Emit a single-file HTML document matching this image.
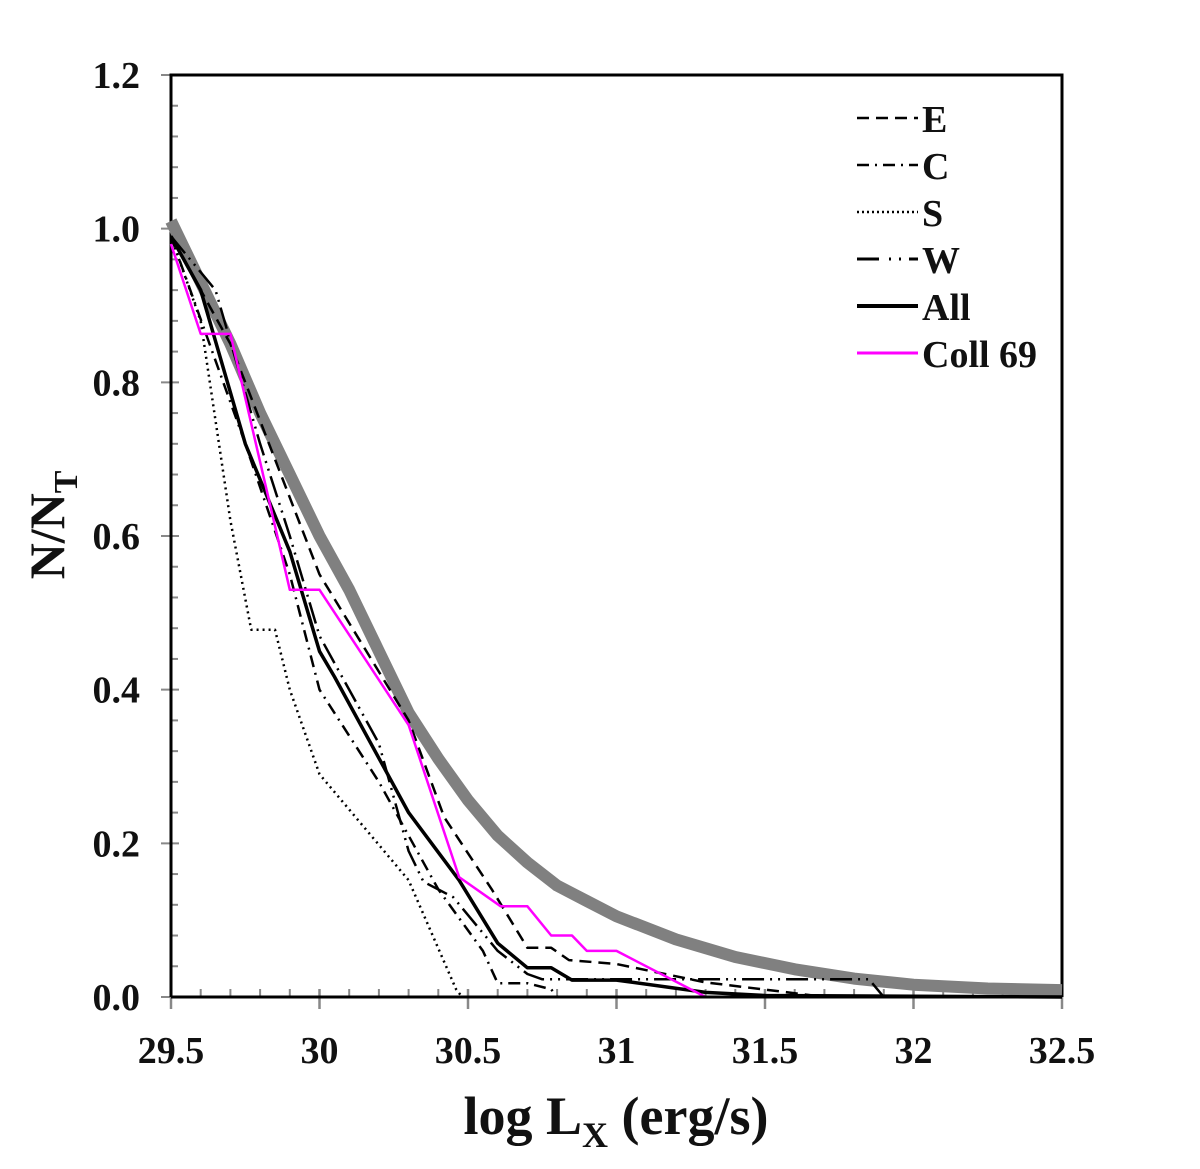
<!DOCTYPE html>
<html><head><meta charset="utf-8"><style>
html,body{margin:0;padding:0;background:#fff;}
svg{display:block;}
text{font-family:"Liberation Serif",serif;font-weight:bold;fill:#111;}
</style></head><body>
<svg id="chart" width="1200" height="1169" viewBox="0 0 1200 1169" xmlns="http://www.w3.org/2000/svg">
<g id="grid"></g>
<g id="series"></g>
<g id="legend"></g>
<text transform="translate(64,525) rotate(-90)" text-anchor="middle" font-size="50">N/N<tspan font-size="34" dy="13">T</tspan></text>
<text x="616" y="1134" text-anchor="middle" font-size="54">log L<tspan font-size="36" dy="13">X</tspan><tspan dy="-13"> (erg/s)</tspan></text>
</svg>
<script>
const xTicks=[29.5,30,30.5,31,31.5,32,32.5];
const xTickLabels=["29.5","30","30.5","31","31.5","32","32.5"];
const yTicks=[0,0.2,0.4,0.6,0.8,1.0,1.2];
const yTickLabels=["0.0","0.2","0.4","0.6","0.8","1.0","1.2"];
const grayX=[29.5,29.6,29.7,29.8,29.9,30.0,30.1,30.2,30.3,30.4,30.5,30.6,30.7,30.8,30.9,31.0,31.2,31.4,31.6,31.8,32.0,32.25,32.5];
const grayY=[1.01,0.93,0.85,0.76,0.68,0.60,0.53,0.45,0.37,0.31,0.256,0.21,0.175,0.145,0.125,0.105,0.075,0.052,0.036,0.024,0.016,0.011,0.009];
const eX=[29.5,29.7,29.9,30.0,30.3,30.42,30.58,30.7,30.78,30.84,31.0,31.3,31.6,31.7,32.5];
const eY=[0.99,0.85,0.65,0.55,0.36,0.234,0.14,0.064,0.064,0.048,0.043,0.019,0.005,0,0];
const cX=[29.5,29.75,29.9,30.0,30.2,30.4,30.55,30.6,30.7,30.78,30.8,32.5];
const cY=[0.99,0.72,0.55,0.40,0.28,0.14,0.06,0.018,0.018,0.01,0,0];
const sX=[29.5,29.6,29.7,29.77,29.85,29.9,30.0,30.3,30.46,30.48,32.5];
const sY=[0.99,0.88,0.62,0.478,0.478,0.40,0.29,0.152,0.01,0,0];
const wX=[29.5,29.65,29.8,29.9,30.0,30.2,30.3,30.35,30.45,30.6,30.7,30.75,31.85,31.9,32.5];
const wY=[0.99,0.92,0.72,0.60,0.47,0.33,0.19,0.15,0.13,0.06,0.03,0.023,0.023,0,0];
const allX=[29.5,29.6,29.75,29.9,30.0,30.05,30.3,30.47,30.6,30.7,30.78,30.85,31.0,31.3,31.5,32.5];
const allY=[0.99,0.92,0.72,0.58,0.45,0.417,0.24,0.152,0.07,0.038,0.038,0.022,0.022,0.006,0.002,0];
const collX=[29.5,29.6,29.7,29.9,30.0,30.3,30.47,30.61,30.7,30.78,30.85,30.9,31.0,31.3,32.5];
const collY=[0.98,0.863,0.863,0.53,0.53,0.354,0.156,0.118,0.118,0.08,0.08,0.06,0.06,0,0];
const legendLabels=["E","C","S","W","All","Coll 69"];

const X0=171,X1=1062,Y0=997,Y1=75;
const sx=v=>X0+(v-29.5)/3*(X1-X0);
const sy=v=>Y0-v/1.2*(Y0-Y1);
const NS="http://www.w3.org/2000/svg";
function mk(tag,parent,attrs){const e=document.createElementNS(NS,tag);for(const k in attrs)e.setAttribute(k,attrs[k]);parent.appendChild(e);return e;}
const g=document.getElementById('grid');
for(let i=0;i<=30;i++){const v=i*0.04;const y=sy(v);
 const t=mk('line',g,{x1:X0,x2:X0+(i%5===0?0:7),y1:y,y2:y,stroke:'#888','stroke-width':2});
 
 }
for(let i=0;i<=30;i++){const v=29.5+i*0.1;const x=sx(v);
 const t=mk('line',g,{x1:x,x2:x,y1:Y0,y2:Y0-(i%5===0?0:8),stroke:'#888','stroke-width':2});
 
 }
yTicks.forEach((v,i)=>{const y=sy(v);
 const t=mk('line',g,{x1:X0-10,x2:X0+8,y1:y,y2:y,stroke:'#888','stroke-width':2});
 
 
 const l=mk('text',g,{x:140,y:y+13,'text-anchor':'end','font-size':38});l.textContent=yTickLabels[i];
 
 });
xTicks.forEach((v,i)=>{const x=sx(v);
 const t=mk('line',g,{x1:x,x2:x,y1:Y0-8,y2:Y0+12,stroke:'#888','stroke-width':2.5});
 
 
 const l=mk('text',g,{x:x,y:1063,'text-anchor':'middle','font-size':38});l.textContent=xTickLabels[i];
 
 });
const frame=mk('path',g,{d:`M${X0},${Y0}V${Y1}H${X1}V${Y0}`,fill:'none',stroke:'#000','stroke-width':3});



const s=document.getElementById('series');
function line(xs,ys,style,name){
 const d=xs.map((v,i)=>(i?'L':'M')+sx(v).toFixed(1)+','+sy(ys[i]).toFixed(1)).join('');
 const p=mk('path',s,Object.assign({d:d,fill:'none','stroke-linejoin':'round'},style));
 
 }
line(grayX,grayY,{stroke:'#808080','stroke-width':12},'model-curve');
line(sX,sY,{stroke:'#000','stroke-width':2.5,'stroke-dasharray':'2 4'},'series-s');
line(cX,cY,{stroke:'#000','stroke-width':2.5,'stroke-dasharray':'12 6 2 6'},'series-c');
line(wX,wY,{stroke:'#000','stroke-width':2.5,'stroke-dasharray':'22 6 2 6 2 6'},'series-w');
line(eX,eY,{stroke:'#000','stroke-width':2.5,'stroke-dasharray':'12 7'},'series-e');
line(allX,allY,{stroke:'#000','stroke-width':3.5},'series-all');
line(collX,collY,{stroke:'#ff00ff','stroke-width':2.5},'series-coll-69');
const axisLine=mk('line',s,{x1:X0,x2:X1,y1:Y0,y2:Y0,stroke:'#000','stroke-width':3});



const lg=document.getElementById('legend');
const lstyles=[{'stroke-dasharray':'12 7','stroke-width':2.5},{'stroke-dasharray':'12 6 2 6','stroke-width':2.5},{'stroke-dasharray':'2 3','stroke-width':2.5},{'stroke-dasharray':'22 10 2 8 2 8','stroke-width':3},{'stroke-width':4},{'stroke-width':3,stroke:'#ff00ff'}];
legendLabels.forEach((lab,i)=>{const y=118+i*47;
 const it=mk('g',lg,{});
 
 
 mk('line',it,Object.assign({x1:857,x2:918,y1:y,y2:y,stroke:'#000'},lstyles[i]));
 const t=mk('text',it,{x:922,y:y+14,'font-size':38});t.textContent=lab;});
</script>
</body></html>
